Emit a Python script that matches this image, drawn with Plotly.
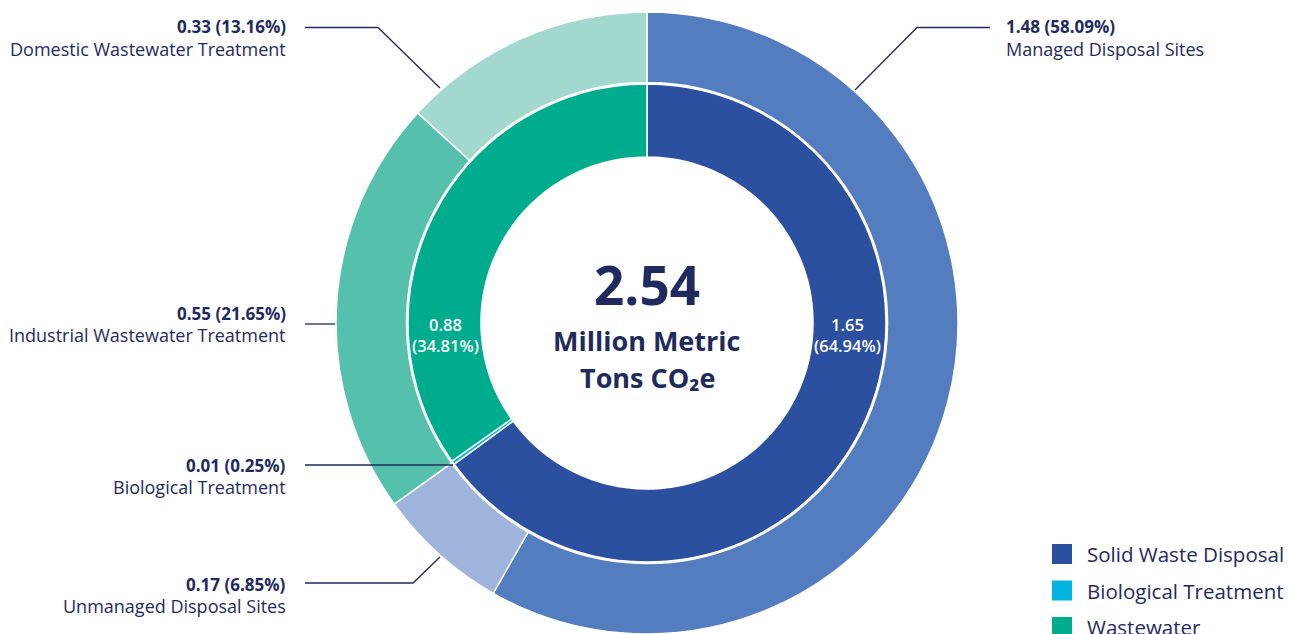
import plotly.graph_objects as go

W, H = 1289, 634

# ---- data ----
inner_labels = ["Solid Waste Disposal", "Biological Treatment", "Wastewater"]
inner_values = [1.65, 0.01, 0.88]
inner_pcts = [64.94, 0.25, 34.81]
inner_colors = ["#2c50a0", "#00b4e1", "#00ac8e"]

outer_labels = ["Managed Disposal Sites", "Unmanaged Disposal Sites",
                "Industrial Wastewater Treatment", "Domestic Wastewater Treatment"]
outer_values = [1.48, 0.17, 0.55, 0.33]
outer_pcts = [58.09, 6.85, 21.65, 13.16]
outer_colors = ["#537dbf", "#9eb4dc", "#55c1ac", "#a2d8cd"]

bio_label = "Biological Treatment"
bio_value = 0.01
bio_pct = 0.25

total = 2.54
NAVY = "#1f2a5e"
FONT = "Open Sans"

# ---- geometry (pixels) ----
R_OUT, R_MID, R_IN = 311, 239, 166
CX, CY = 647, H - R_OUT


def dom(r):
    return dict(x=[max(0, (CX - r) / W), min(1, (CX + r) / W)],
                y=[max(0, (H - CY - r) / H), min(1, (H - CY + r) / H)])


def px(x):
    return x / W


def py(y):
    return 1 - y / H


fig = go.Figure()
fig.add_trace(go.Pie(
    labels=outer_labels, values=outer_pcts, sort=False, direction="clockwise",
    rotation=0, hole=(R_MID + 1.5) / R_OUT, domain=dom(R_OUT),
    marker=dict(colors=outer_colors, line=dict(color="white", width=1.5)),
    textinfo="none", showlegend=False, hoverinfo="label+value"))
fig.add_trace(go.Pie(
    labels=inner_labels, values=inner_pcts, sort=False, direction="clockwise",
    rotation=0, hole=R_IN / R_MID, domain=dom(R_MID),
    marker=dict(colors=inner_colors, line=dict(color="white", width=1.5)),
    textinfo="none", showlegend=False, hoverinfo="label+value"))

ann = []
shapes = []

# center text
ann.append(dict(x=px(CX), y=py(284), text=f"<b>{total:.2f}</b>", showarrow=False,
                font=dict(size=53, color=NAVY, family=FONT)))
ann.append(dict(x=px(CX), y=py(340), text="<b>Million Metric</b>", showarrow=False,
                font=dict(size=27, color=NAVY, family=FONT)))
ann.append(dict(x=px(CX), y=py(377), text="<b>Tons CO₂e</b>", showarrow=False,
                font=dict(size=27, color=NAVY, family=FONT)))

# inner ring labels
for (lx, i) in [(847, 0), (445, 2)]:
    ann.append(dict(x=px(lx), y=py(335),
                    text=f"{inner_values[i]:.2f}<br>({inner_pcts[i]:.2f}%)",
                    showarrow=False,
                    font=dict(size=16.5, color="white", family=FONT, weight=600)))

# outer labels: (name, value, pct, text x, text y, anchor, leader path pts)
callouts = [
    (outer_labels[0], outer_values[0], outer_pcts[0], 1004, 27, "left",
     [(990, 27.5), (917, 27.5), (855, 90)]),
    (outer_labels[3], outer_values[3], outer_pcts[3], 288, 27, "right",
     [(305, 27.5), (378, 27.5), (440, 88)]),
    (outer_labels[2], outer_values[2], outer_pcts[2], 288, 313, "right",
     [(305, 324), (335, 324)]),
    (bio_label, bio_value, bio_pct, 288, 465, "right",
     [(305, 465), (453, 465)]),
    (outer_labels[1], outer_values[1], outer_pcts[1], 288, 584, "right",
     [(305, 583), (413, 583), (440, 557)]),
]
for name, v, p, tx, ty, anc, pts in callouts:
    ann.append(dict(x=px(tx), y=py(ty), text=f"<b>{v:.2f} ({p:.2f}%)</b>",
                    showarrow=False, xanchor=anc, yanchor="middle",
                    font=dict(size=17, color=NAVY, family=FONT)))
    ann.append(dict(x=px(tx), y=py(ty + 22), text=name,
                    showarrow=False, xanchor=anc, yanchor="middle",
                    font=dict(size=18, color=NAVY, family=FONT)))
    path = "M " + " L ".join(f"{px(a):.5f},{py(b):.5f}" for a, b in pts)
    shapes.append(dict(type="path", xref="paper", yref="paper", path=path,
                       line=dict(color=NAVY, width=1.3)))

# legend
for i, (lab, col) in enumerate(zip(inner_labels, inner_colors)):
    yc = 554 + 36.5 * i
    shapes.append(dict(type="rect", xref="paper", yref="paper",
                       x0=px(1052), x1=px(1072), y0=py(yc - 10), y1=py(yc + 10),
                       fillcolor=col, line=dict(width=0)))
    ann.append(dict(x=px(1085), y=py(yc), text=lab, showarrow=False,
                    xanchor="left", yanchor="middle",
                    font=dict(size=20.5, color=NAVY, family=FONT)))

fig.update_layout(width=W, height=H, margin=dict(l=0, r=0, t=0, b=0),
                  paper_bgcolor="white", plot_bgcolor="white",
                  annotations=ann, shapes=shapes, showlegend=False)
fig.write_html("out.html", config={"displayModeBar": False},
               post_script="document.body.style.margin='0px';"
                           "document.body.style.overflow='hidden';")
